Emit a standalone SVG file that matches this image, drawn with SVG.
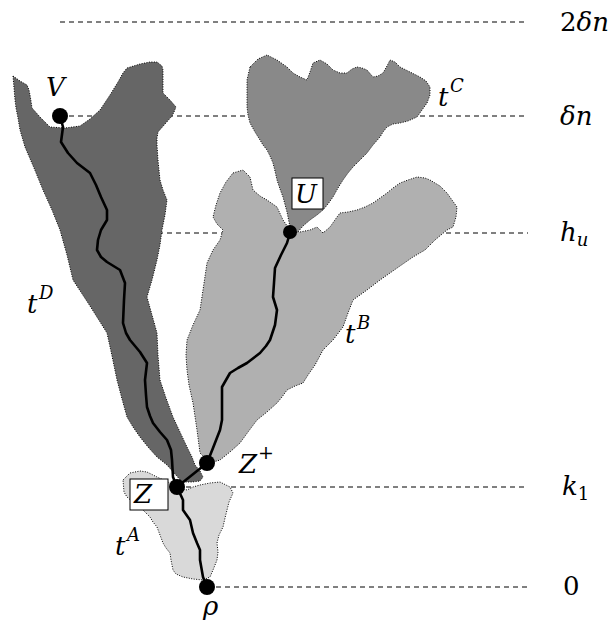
<svg xmlns="http://www.w3.org/2000/svg" width="611" height="625" viewBox="0 0 611 625">
<style>
.lvl{stroke:#000;stroke-width:1;stroke-dasharray:5 4;fill:none}
.blob{stroke:#000;stroke-width:1;stroke-dasharray:1 1.5}
.path{stroke:#000;stroke-width:2.6;fill:none;stroke-linejoin:round;stroke-linecap:round}
.dot{fill:#000}
.box{fill:#fff;stroke:#000;stroke-width:1}
</style>
<g id="levels">
<line class="lvl" x1="60" y1="22" x2="528" y2="22"/>
<line class="lvl" x1="60" y1="116" x2="528" y2="116"/>
<line class="lvl" x1="158" y1="233" x2="528" y2="233"/>
<line class="lvl" x1="177" y1="487" x2="528" y2="487"/>
<line class="lvl" x1="207" y1="587" x2="528" y2="587"/>
</g>
<g id="tA">
<polygon class="blob" fill="#d9d9d9" points="123,480 130,473 140,471 147,472 157,477 168,482 180,488 187,490 193,487 200,485 210,483 220,482 230,487 233,493 229,502 227,510 225,518 223,527 219,535 217,543 218,552 217,560 213,570 210,577 203,580 193,579 183,577 176,574 173,570 171,560 170,553 166,548 163,543 160,535 157,527 153,522 150,517 143,510 135,504 127,497 124,492"/>
</g>
<g id="tB">
<polygon class="blob" fill="#b0b0b0" points="233,173 243,170 250,177 253,190 260,196 267,200 277,207 283,220 290,230 300,232 310,230 317,227 323,233 330,227 337,217 340,213 348,212 357,210 365,207 373,203 380,198 387,193 393,188 400,183 408,180 417,177 425,178 430,180 440,186 447,193 452,200 457,207 456,217 453,227 447,230 435,240 425,250 413,257 400,266 390,273 380,280 367,290 353,300 348,313 343,327 333,340 323,350 315,365 308,375 303,383 295,386 287,390 282,397 277,403 267,412 257,420 248,432 240,443 230,452 220,460 210,463 200,453 197,430 193,403 189,385 187,370 186,355 187,340 193,325 200,310 203,290 207,263 213,250 220,240 223,230 217,224 213,217 216,205 220,193 226,182"/>
</g>
<g id="tC">
<polygon class="blob" fill="#898989" points="250,67 258,59 267,55 277,60 287,67 293,73 300,77 307,80 310,72 313,63 320,60 327,64 333,70 340,73 347,73 352,69 357,67 362,68 367,70 373,77 378,76 383,73 387,66 390,60 395,62 400,67 410,72 420,77 426,81 430,87 430,95 427,103 422,110 417,117 408,121 400,123 393,124 387,127 383,132 380,137 373,145 367,153 360,160 353,167 348,173 343,180 338,188 333,197 328,204 323,210 317,215 310,220 303,226 297,233 290,227 287,212 283,197 280,189 277,180 275,171 273,163 270,156 267,150 263,145 260,140 255,132 250,123 248,115 247,107 247,94 247,80"/>
</g>
<g id="tD">
<polygon class="blob" fill="#666666" points="13,76 20,81 27,85 29,90 30,95 31,101 32,108 40,117 50,127 65,128 80,126 90,119 100,110 110,95 118,82 123,73 127,68 140,64 150,62 157,62 162,66 163,70 163,80 163,93 170,100 176,107 174,112 172,116 165,124 158,132 157,138 157,145 158,160 160,180 163,190 167,200 165,215 162,230 160,245 157,260 152,280 147,297 152,315 157,333 158,355 160,380 166,398 173,417 180,432 187,447 192,457 195,465 200,471 203,477 200,481 192,482 182,482 175,474 167,465 162,461 157,457 148,447 140,437 133,427 127,417 122,399 117,380 112,356 107,333 90,306 73,280 67,255 60,230 52,210 43,190 34,168 25,147 20,130 18,118 16,108 15,100 14,88"/>
</g>
<g id="connectors">
<polyline class="path" points="60,116 63,127 61,142 68,153 77,163 90,173 96,185 101,197 107,210 107,220 101,230 98,240 97,250 101,257 107,262 120,270 125,283 124,300 123,323 126,333 130,340 140,352 147,363 145,380 146,395 147,407 150,416 153,423 160,432 167,440 171,450 172,460 173,477 177,487"/>
<polyline class="path" points="177,487 183,500 183,510 190,520 193,533 197,543 200,550 200,560 203,577 207,587"/>
<line class="path" x1="177" y1="487" x2="207" y2="463"/>
<polyline class="path" points="207,463 213,448 220,430 222,420 222,410 222,387 230,373 238,368 247,363 260,353 266,346 270,340 275,325 277,310 273,297 274,283 275,268 281,255 287,243 290,233"/>
</g>
<g font-family="DejaVu Serif, serif" font-style="italic" font-size="26" fill="#000">
<g id="V"><circle class="dot" cx="60" cy="116" r="8"/><text x="46" y="96">V</text></g>
<g id="U"><circle class="dot" cx="290" cy="232" r="7"/><rect class="box" x="292" y="178" width="31" height="31"/><text x="295" y="203">U</text></g>
<g id="Zplus"><circle class="dot" cx="207" cy="463" r="8"/><text x="239" y="473">Z</text><text font-size="19" font-style="normal" x="258" y="459">+</text></g>
<g id="Z"><circle class="dot" cx="177" cy="487" r="8"/><rect class="box" x="130" y="479" width="38" height="31"/><text x="134" y="503">Z</text></g>
<g id="rho"><circle class="dot" cx="207" cy="587" r="8"/><text x="203" y="615">ρ</text></g>
<g id="labels">
<text x="438" y="106">t</text><text font-size="18" x="450" y="92">C</text>
<text x="27" y="313">t</text><text font-size="18" x="39" y="299">D</text>
<text x="345" y="343">t</text><text font-size="18" x="357" y="329">B</text>
<text x="115" y="555">t</text><text font-size="18" x="127" y="541">A</text>
<text x="560" y="31"><tspan font-style="normal">2</tspan>δn</text>
<text x="560" y="125">δn</text>
<text x="560" y="241">h<tspan font-size="18" dy="5">u</tspan></text>
<text x="562" y="495">k<tspan font-size="18" font-style="normal" dy="5">1</tspan></text>
<text font-style="normal" x="563" y="595">0</text>
</g>
</g>
</svg>
